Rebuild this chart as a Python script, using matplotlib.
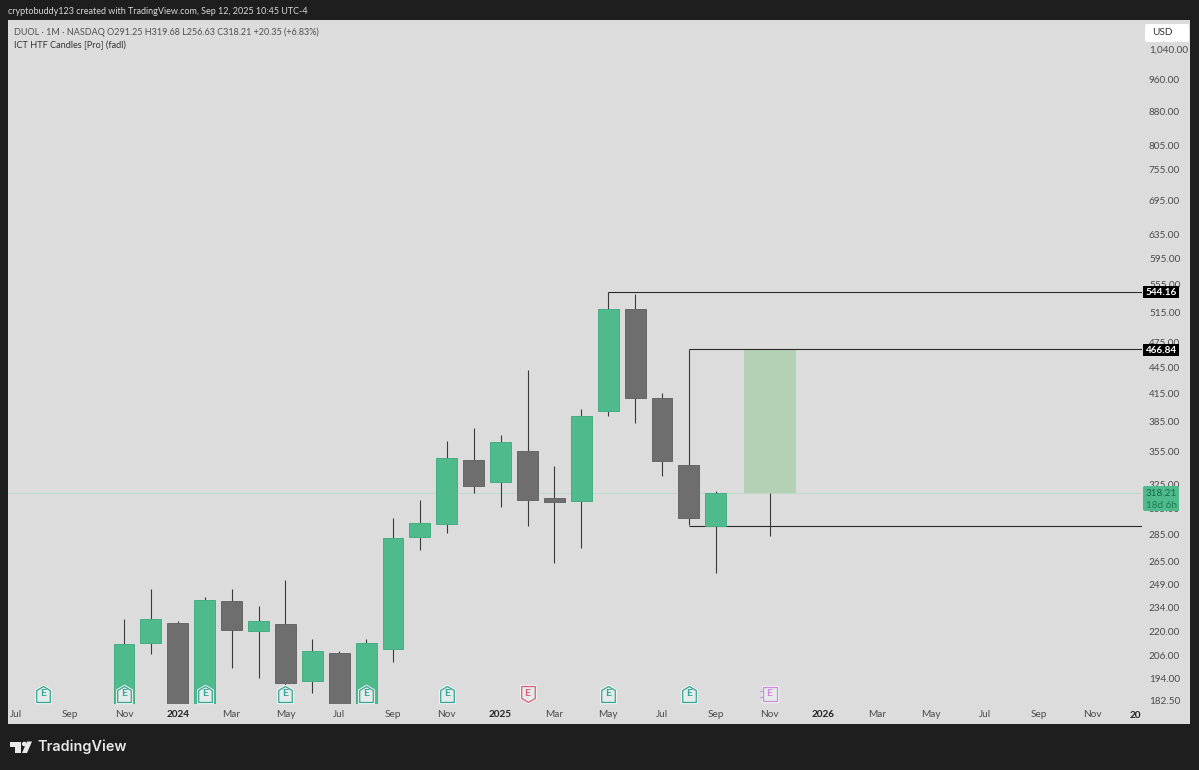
import matplotlib
matplotlib.use("Agg")
import matplotlib.pyplot as plt
from matplotlib.patches import Rectangle, Polygon, Circle, FancyBboxPatch
from matplotlib.path import Path
from matplotlib.transforms import Affine2D, blended_transform_factory

# ---------- data ----------
month_index = list(range(4, 27))
opens  = [176.0, 213.1, 224.8, 176.0, 238.4, 220.0, 224.2, 192.5, 207.5, 176.0, 209.7, 282.8, 292.8,
          347.5, 327.6, 356.0, 313.8, 311.3, 396.1, 520.0, 410.0, 342.8, 291.25]
highs  = [227.2, 246.2, 226.0, 240.9, 246.2, 235.2, 252.1, 215.1, 208.6, 215.1, 297.5, 312.1, 365.6,
          378.6, 371.4, 442.2, 341.9, 398.2, 544.16, 541.2, 415.4, 466.84, 319.68]
lows   = [172.0, 206.9, 172.0, 172.0, 199.3, 194.1, 181.6, 186.4, 172.0, 172.0, 202.5, 273.1, 285.9,
          318.2, 306.1, 291.2, 263.8, 274.6, 390.9, 383.6, 332.9, 291.8, 256.63]
closes = [212.5, 227.2, 176.0, 239.0, 220.6, 226.0, 191.5, 208.6, 176.0, 213.1, 282.0, 293.6, 349.3,
          324.2, 364.6, 312.1, 310.5, 390.9, 520.0, 410.0, 346.6, 297.5, 318.21]

last_close = 318.21
high_level = 544.16
target_level = 466.84
low_level = 291.5
projection_month = 28
projection_low = 283.6

y_ticks = [1040, 960, 880, 805, 755, 695, 635, 595, 555, 515, 475, 445, 415, 385, 355, 325, 305,
           285, 265, 249, 234, 220, 206, 194, 182.5]
x_ticks = [0, 2, 4, 6, 8, 10, 12, 14, 16, 18, 20, 22, 24, 26, 28, 30, 32, 34, 36, 38, 40]
x_labels = ["Jul", "Sep", "Nov", "2024", "Mar", "May", "Jul", "Sep", "Nov", "2025", "Mar", "May",
            "Jul", "Sep", "Nov", "2026", "Mar", "May", "Jul", "Sep", "Nov"]
earn_past = [1, 4, 7, 10, 13, 16, 22, 25]
earn_miss = [19]
earn_next = [28]

# ---------- style ----------
W, H = 1199, 770
FONT = ["Lato", "DejaVu Sans"]
FS = 7.2
BG = "#1e1e1e"
PANEL = "#dcdcdc"
GREEN = "#4fba8c"
GREEN_E = "#45ad82"
GREY = "#6e6e6e"
WICK = "#3a3a3a"
TXT = "#4a4a4a"
plt.rcParams["font.family"] = FONT

fig = plt.figure(figsize=(W / 100, H / 100), dpi=100, facecolor=BG)
px = Affine2D().scale(1 / W, -1 / H).translate(0, 1) + fig.transFigure

fig.add_artist(Rectangle((8, 20), 1182, 704, transform=px, fc=PANEL, ec="none", zorder=-5))

L, R, T, B = 8, 1142, 20, 704
ax = fig.add_axes([L / W, 1 - B / H, (R - L) / W, (B - T) / H], facecolor="none")
ax.set_yscale("log")
ax.set_ylim(181.04, 1125.1)
ax.set_xlim((L - 16.4) / 26.9, (R - 16.4) / 26.9)
for s in ax.spines.values():
    s.set_visible(False)

# candles
for m, o, h, l, c in zip(month_index, opens, highs, lows, closes):
    up = c >= o
    ax.vlines(m, l, h, color=WICK, lw=0.8, zorder=2)
    ax.bar(m, abs(c - o), bottom=min(o, c), width=0.78, color=GREEN if up else GREY,
           edgecolor=GREEN_E if up else "#666666", lw=0.7, zorder=3)

# levels and projection
ax.axhline(last_close, color="#bfdccb", lw=0.8, zorder=1)
ax.hlines(high_level, month_index[18], ax.get_xlim()[1], color="#2a2a2a", lw=0.8, zorder=2)
ax.hlines(target_level, month_index[21], ax.get_xlim()[1], color="#2a2a2a", lw=0.8, zorder=2)
ax.hlines(low_level, month_index[21], ax.get_xlim()[1], color="#2a2a2a", lw=0.8, zorder=2)
ax.bar(projection_month, target_level - last_close, bottom=last_close, width=1.93,
       color="#b5d1b5", edgecolor="none", zorder=1.5)
ax.vlines(projection_month, projection_low, last_close, color=WICK, lw=0.8, zorder=2)

# axes ticks
ax.yaxis.tick_right()
ax.set_yticks(y_ticks)
ax.set_yticklabels([f"{v:,.2f}" for v in y_ticks], fontsize=FS, color=TXT, ha="left")
ax.minorticks_off()
ax.tick_params(axis="y", length=0, pad=5)
ax.set_xticks(x_ticks)
ax.set_xticklabels(x_labels, fontsize=FS, color=TXT)
ax.tick_params(axis="x", length=0, pad=4.5)
for lab in ax.get_xticklabels():
    if lab.get_text().startswith("20"):
        lab.set_fontweight("bold")
        lab.set_color("#222222")
xb = ax.get_xaxis_transform()
ax.text(41.6, -12 / (B - T), "20", transform=xb, fontsize=FS, fontweight="bold", color="#222222",
        ha="center", va="center", clip_on=False)

# earnings markers
house = Path([(-0.85, -1), (0.85, -1), (0.85, 0.5), (0, 1), (-0.85, 0.5), (-0.85, -1)], closed=True)
shield = Path([(-0.85, 1), (0.85, 1), (0.85, -0.5), (0, -1), (-0.85, -0.5), (-0.85, 1)], closed=True)
square = Path([(-1, -1), (1, -1), (1, 1), (-1, 1), (-1, -1)], closed=True)
ey = 10 / (B - T)
for months, mk, col, ms in [(earn_past, house, "#35a596", 11.5), (earn_miss, shield, "#dc5f76", 11.5),
                            (earn_next, square, "#d186e4", 9.5)]:
    ax.plot(months, [ey] * len(months), ls="none", marker=mk, ms=ms + 1.5, mfc="#f2f5f4", mec="#f2f5f4",
            transform=xb, zorder=4, clip_on=False)
    ax.plot(months, [ey] * len(months), ls="none", marker=mk, ms=ms, mfc="#e4ebe8", mec=col, mew=0.9,
            transform=xb, zorder=5, clip_on=False)
    for m in months:
        ax.text(m, ey, "E", transform=xb, color=col, fontsize=7.5, fontweight="bold",
                ha="center", va="center", zorder=6)
for m in earn_next:
    ax.hlines([ey - 0.004, ey + 0.004], m - 0.36, m - 0.24, color="#d186e4", lw=0.9, transform=xb, zorder=6)

# price tags
for v, yc in [(high_level, 292), (target_level, 349.5)]:
    fig.add_artist(Rectangle((1143, yc - 6), 36, 12, transform=px, fc="#000000", ec="none", zorder=7))
    fig.text(1161, yc + 0.7, f"{v:.2f}", transform=px, color="white", fontsize=FS, fontweight="bold",
             ha="center", va="center", zorder=8)
fig.add_artist(FancyBboxPatch((1144, 487), 34, 23, boxstyle="round,pad=1,rounding_size=2", transform=px,
                              fc=GREEN, ec="none", zorder=7))
fig.text(1161, 493, f"{last_close:.2f}", transform=px, color="#14694a", fontsize=FS, ha="center", va="center", zorder=8)
fig.text(1161, 505, "18d 6h", transform=px, color="#217a56", fontsize=FS, ha="center", va="center", zorder=8)

# USD box
fig.add_artist(FancyBboxPatch((1147, 26), 40, 14, boxstyle="round,pad=2,rounding_size=2", transform=px,
                              fc="white", ec="none", zorder=7))
fig.text(1152, 32.5, "USD", transform=px, color="#333333", fontsize=FS, ha="left", va="center", zorder=8)

# header text
fig.text(8, 12, "cryptobuddy123 created with TradingView.com, Sep 12, 2025 10:45 UTC-4", transform=px,
         color="#d8d8d8", fontsize=6.45, va="center")
fig.text(14, 32, "DUOL · 1M · NASDAQ O291.25 H319.68 L256.63 C318.21 +20.35 (+6.83%)", transform=px,
         color="#4f4f4f", fontsize=6.5, va="center")
fig.text(14, 45, "ICT HTF Candles [Pro] (fadl)", transform=px, color="#333333", fontsize=6.6, va="center")

# footer logo
fig.add_artist(Polygon([(9.5, 741.5), (21, 741.5), (21, 753), (15, 753), (15, 746.5), (9.5, 746.5)],
                       transform=px, fc="#e8e8e8", ec="none"))
fig.add_artist(Circle((24.2, 744), 2.3, transform=px, fc="#e8e8e8", ec="none"))
fig.add_artist(Polygon([(27, 741.5), (32, 741.5), (27, 753), (22, 753)], transform=px, fc="#e8e8e8", ec="none"))
fig.text(37, 747, "TradingView", transform=px, color="#e8e8e8", fontsize=10.4, fontweight="semibold",
         va="center", family=["Inter", "DejaVu Sans"])

fig.savefig("out.png", dpi=100, facecolor=BG)
